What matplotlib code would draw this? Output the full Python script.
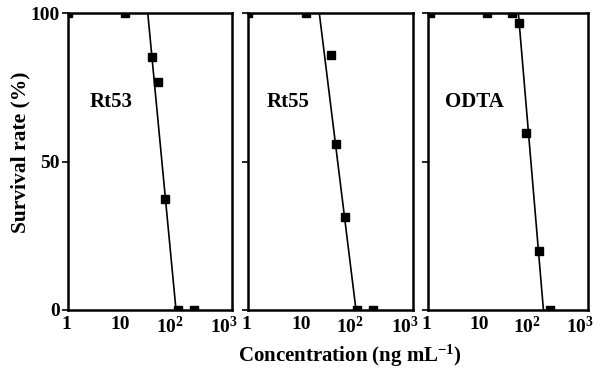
import numpy as np
import matplotlib
matplotlib.use("Agg")
import matplotlib.pyplot as plt
from matplotlib.transforms import ScaledTranslation

plt.rcParams['font.family'] = 'Liberation Serif'
plt.rcParams['font.weight'] = 'bold'
plt.rcParams['mathtext.fontset'] = 'custom'
plt.rcParams['mathtext.rm'] = 'Liberation Serif:bold'
plt.rcParams['mathtext.bf'] = 'Liberation Serif:bold'
plt.rcParams['mathtext.it'] = 'Liberation Serif:bold:italic'

# survival data (concentration in ng/mL, survival in %)
names = ["Rt53", "Rt55", "ODTA"]
conc_rt53 = [1, 11.2, 34, 44, 60, 104, 206]
surv_rt53 = [100, 100, 85.4, 77, 37.3, 0, 0]
conc_rt55 = [1, 11.3, 32, 40, 59, 97, 185]
surv_rt55 = [100, 100, 86, 56, 31.5, 0, 0]
conc_odta = [1.1, 12.6, 37.6, 51.6, 69, 119, 191]
surv_odta = [100, 100, 100, 96.6, 59.8, 20, 0]

# fitted lines: concentration where survival hits 100% and 0%
fit_conc = [[28.8, 94.6], [19.8, 92], [49.5, 146]]
fit_surv = [100, 0]

xticks = [1, 10, 100, 1000]
xticklabels = ["1", "10", r"10$^{2}$", r"10$^{3}$"]
yticks = [0, 50, 100]

concs = [conc_rt53, conc_rt55, conc_odta]
survs = [surv_rt53, surv_rt55, surv_odta]

W, H = 601, 376
lefts = [68, 248, 428]
rights = [232, 413, 588]
top, bottom = 13.3, 310
label_x = [0.13, 0.115, 0.105]
# small leftward nudge of the tick labels (points)
nudge = [-1, -1.5, -5.5, -5.5]

fig = plt.figure(figsize=(W / 100, H / 100), dpi=100)

for i in range(3):
    ax = fig.add_axes([lefts[i] / W, (H - bottom) / H,
                       (rights[i] - lefts[i]) / W, (bottom - top) / H])
    ax.set_xscale('log')
    ax.set_xlim(1, 1000)
    ax.set_ylim(0, 100)
    ax.plot(fit_conc[i], fit_surv, color='black', lw=1.2)
    ax.plot(concs[i], survs[i], 's', color='black', ms=5.2)
    for s in ax.spines.values():
        s.set_linewidth(1.8)
    ax.set_xticks(xticks)
    ax.set_xticklabels(xticklabels, fontsize=14)
    ax.xaxis.set_minor_locator(matplotlib.ticker.NullLocator())
    ax.tick_params(axis='x', length=0, pad=4)
    for lab, dx in zip(ax.get_xticklabels(), nudge):
        lab.set_transform(lab.get_transform() +
                          ScaledTranslation(dx / 72, 0, fig.dpi_scale_trans))
    ax.set_yticks(yticks)
    ax.tick_params(axis='y', length=4, width=1.2, pad=2)
    if i == 0:
        ax.set_yticklabels([str(t) for t in yticks], fontsize=14)
    else:
        ax.set_yticklabels([])
    ax.text(label_x[i], 0.70, names[i], transform=ax.transAxes,
            fontsize=15, fontweight='bold', va='center')

fig.text(20 / W, 1 - 152 / H, "Survival rate (%)", rotation=90,
         ha='center', va='center', fontsize=15.5, fontweight='bold')
fig.text(350 / W, 1 - 356 / H, r"Concentration (ng mL$^{-1}$)",
         ha='center', va='center', fontsize=15, fontweight='bold')

fig.savefig("out.png", dpi=100)
